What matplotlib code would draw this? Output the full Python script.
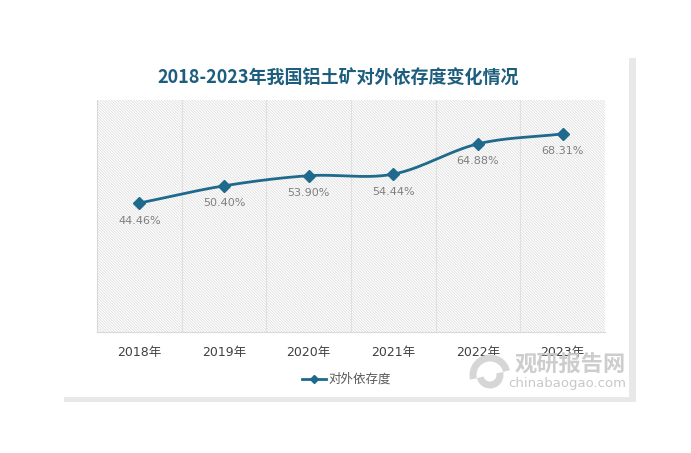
import matplotlib
matplotlib.use('Agg')
import matplotlib.pyplot as plt
import numpy as np
from matplotlib.patches import Rectangle, Arc

plt.rcParams['font.family'] = ['Noto Sans CJK SC', 'DejaVu Sans']
plt.rcParams['hatch.linewidth'] = 0.5

years = ['2018年', '2019年', '2020年', '2021年', '2022年', '2023年']
values = [44.46, 50.40, 53.90, 54.44, 64.88, 68.31]
series_name = '对外依存度'
title = '2018-2023年我国铝土矿对外依存度变化情况'

line_color = '#1f6a8c'
W, H = 691, 453


def smooth(x, y, n=30):
    # Catmull-Rom style smoothing of the drawn line
    x = np.asarray(x, float)
    y = np.asarray(y, float)
    px = np.concatenate([[2 * x[0] - x[1]], x, [2 * x[-1] - x[-2]]])
    py = np.concatenate([[2 * y[0] - y[1]], y, [2 * y[-1] - y[-2]]])
    xs, ys = [], []
    for i in range(1, len(px) - 2):
        t = np.linspace(0, 1, n)
        for arr, out in ((px, xs), (py, ys)):
            p0, p1, p2, p3 = arr[i - 1], arr[i], arr[i + 1], arr[i + 2]
            out.extend(0.5 * ((2 * p1) + (-p0 + p2) * t
                              + (2 * p0 - 5 * p1 + 4 * p2 - p3) * t ** 2
                              + (-p0 + 3 * p1 - 3 * p2 + p3) * t ** 3))
    return np.array(xs), np.array(ys)


fig = plt.figure(figsize=(W / 100, H / 100), dpi=100)
fig.patch.set_facecolor('white')

# panel shadow + white panel
fig.patches.append(Rectangle((64 / W, 1 - 402 / H), 572 / W, 344 / H,
                             transform=fig.transFigure, facecolor='#e8e8e8',
                             edgecolor='none', zorder=-2))
fig.patches.append(Rectangle((61 / W, 1 - 397 / H), 568 / W, 340 / H,
                             transform=fig.transFigure, facecolor='white',
                             edgecolor='none', zorder=-1))

ax = fig.add_axes([97 / W, 1 - 332 / H, 508 / W, 232 / H])
ax.set_facecolor('white')
ax.add_patch(Rectangle((0, 0), 1, 1, transform=ax.transAxes, facecolor='white',
                       edgecolor='#d9d9d9', linewidth=0, hatch='\\' * 12,
                       zorder=0))

x = np.arange(len(years))
ax.set_xlim(-0.5, len(years) - 0.5)
ax.set_ylim(0, 80)

for b in np.arange(0.5, len(years) - 0.5, 1):
    ax.axvline(b, color='#e0e0e0', lw=0.8, zorder=1)

sx, sy = smooth(x, values)
ax.plot(sx, sy, color=line_color, lw=2, zorder=3, solid_capstyle='round')
ax.plot(x, values, linestyle='none', marker='D', markersize=6,
        color=line_color, zorder=4)

for xi, v in zip(x, values):
    ax.annotate('{:.2f}%'.format(v), (xi, v), xytext=(0, -9),
                textcoords='offset points', ha='center', va='top',
                fontsize=8, color='#7f7f7f', family='DejaVu Sans')

ax.set_xticks(x)
ax.set_xticklabels(years, fontsize=9, color='#404040',
                   family=['DejaVu Sans', 'Noto Sans CJK SC'])
ax.tick_params(axis='x', length=0, pad=10)
ax.set_yticks([])
for s in ['top', 'right']:
    ax.spines[s].set_visible(False)
ax.spines['left'].set_color('#d9d9d9')
ax.spines['bottom'].set_color('#d9d9d9')

fig.text(338 / W, 1 - 78 / H, title, ha='center', va='center',
         fontsize=13, fontweight='bold', color='#1d5e7e')

# legend
fig.lines.append(plt.Line2D([302 / W, 326 / W], [1 - 379 / H] * 2,
                            transform=fig.transFigure, color=line_color, lw=2))
fig.lines.append(plt.Line2D([314 / W], [1 - 379 / H], transform=fig.transFigure,
                            color=line_color, marker='D', markersize=4))
fig.text(328 / W, 1 - 379 / H, series_name, ha='left', va='center',
         fontsize=9, color='#595959')

# watermark
for r, th1, th2 in [(17, 20, 200), (10, 200, 380)]:
    fig.patches.append(Arc((490 / W, 1 - 375 / H), 2 * r / W, 2 * r / H,
                           theta1=th1, theta2=th2, transform=fig.transFigure,
                           color='#d6d6d6', lw=5, zorder=5))
fig.text(570 / W, 1 - 365 / H, '观研报告网', ha='center', va='center',
         fontsize=16, fontweight='bold', color='#c8c8c8', alpha=0.9, zorder=6)
fig.text(567 / W, 1 - 384 / H, 'chinabaogao.com', ha='center', va='center',
         fontsize=9.5, color='#c8c8c8', family='DejaVu Sans', zorder=6)

fig.savefig('out.png', dpi=100, facecolor='white')
